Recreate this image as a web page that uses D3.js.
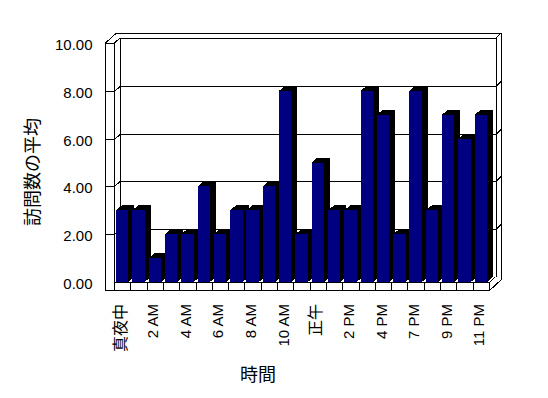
<!DOCTYPE html>
<html>
<head>
<meta charset="utf-8">
<script src="https://cdn.jsdelivr.net/npm/d3@7"></script>
<style>
  body { margin: 0; background: #fff; }
  svg { display: block; }
  text { font-family: "Liberation Sans", Arial, "Noto Sans CJK JP", sans-serif; fill: #000; }
</style>
</head>
<body>
<div id="chart"></div>
<script>
// data: average visits per hour of day
var hours = ["真夜中","1 AM","2 AM","3 AM","4 AM","5 AM","6 AM","7 AM","8 AM","9 AM","10 AM","11 AM",
             "正午","1 PM","2 PM","3 PM","4 PM","5 PM","7 PM","8 PM","9 PM","10 PM","11 PM"];
var visits = [3,3,1,2,2,4,2,3,3,4,8,2,5,3,3,8,7,2,8,3,7,6,7];
var yTicks = [0,2,4,6,8,10];
var yTitle = "訪問数の平均";
var xTitle = "時間";

var width = 548, height = 398;

var svg = d3.select("#chart").append("svg")
    .attr("width", width)
    .attr("height", height)
    .attr("shape-rendering", "crispEdges");

// scales
var x = d3.scaleBand()
    .domain(hours)
    .range([114, 489])
    .padding(0);
var y = d3.scaleLinear()
    .domain([0, 10])
    .range([282, 43]);

// 3d depth offsets
var wallDx = 5.5, wallDy = 5;
var barDx = 6, barDy = 5;

var L = 105.5, B = 114.5, BW = B + wallDx, R = 496, R2 = R + 5;
var top0 = y(10), floorTop = y(0), floorFront = 290.5;
var xEnd = x.range()[1] + 0.5;

var frame = svg.append("g")
    .attr("fill", "none")
    .attr("stroke", "#000")
    .attr("stroke-width", 1);

// side wall + back wall outline
frame.append("path").attr("d",
  "M" + L + "," + floorFront + "V" + top0 + "H" + B + "V" + floorTop +
  "M" + L + "," + top0 + "L" + (L + wallDx) + "," + (top0 - wallDy) +
  "L" + (L + 2 * wallDx) + "," + (top0 - 2 * wallDy) + "H" + R2 + "V" + (floorTop - 2) +
  "M" + B + "," + top0 + "L" + BW + "," + (top0 - wallDy) + "H" + R + "V" + (floorTop - wallDy) +
  "M" + R + "," + (top0 - wallDy) + "L" + R2 + "," + (top0 - 2 * wallDy) +
  "M" + BW + "," + (top0 - wallDy) + "V" + (floorTop - wallDy));

// gridlines: front tick, wrap to back wall, across, wrap around thickness
frame.selectAll(".grid")
  .data(yTicks.filter(function(d) { return d > 0 && d < 10; }))
  .enter().append("path")
    .attr("class", "grid")
    .attr("d", function(d) {
      var yy = Math.round(y(d)) + 0.5;
      return "M" + L + "," + yy + "H" + B + "L" + BW + "," + (yy - wallDy) +
             "H" + R + "L" + R2 + "," + (yy - 2 * wallDy);
    });

// bars
var bars = svg.append("g").selectAll(".bar")
  .data(visits)
  .enter().append("g")
    .attr("class", "bar");

var bw = x.bandwidth() * 0.76;
function bx(i) { return x(hours[i]) + 2; }

bars.append("path")
    .attr("fill", "#000")
    .attr("d", function(d, i) {
      var x0 = bx(i), x1 = x0 + bw, yt = y(d), yb = y(0);
      return "M" + x0 + "," + yt + "L" + (x0 + barDx) + "," + (yt - barDy) +
             "H" + (x1 + barDx) + "V" + (yb - barDy) + "L" + x1 + "," + yb +
             "V" + yt + "Z";
    });

bars.append("rect")
    .attr("fill", "#000080")
    .attr("x", function(d, i) { return bx(i); })
    .attr("y", function(d) { return y(d); })
    .attr("width", bw)
    .attr("height", function(d) { return y(0) - y(d); });

// floor slab
var floor = svg.append("g")
    .attr("fill", "none")
    .attr("stroke", "#000");
floor.append("path").attr("d",
  "M" + B + "," + (floorTop + 0.5) + "H" + xEnd + "L" + (xEnd + wallDx) + "," + (floorTop - wallDy) +
  "M" + L + "," + floorFront + "H" + xEnd + "V" + floorTop +
  "M" + xEnd + "," + floorFront + "L" + R2 + "," + (floorTop - 2));

var bounds = hours.map(function(h) { return x(h); }).concat([x.range()[1]]);
floor.selectAll(".ctick")
  .data(bounds)
  .enter().append("line")
    .attr("class", "ctick")
    .attr("x1", function(d) { return Math.round(d) + 0.5; })
    .attr("x2", function(d) { return Math.round(d) + 0.5; })
    .attr("y1", floorTop)
    .attr("y2", floorFront);

// y axis labels
var yAxis = svg.append("g")
    .attr("transform", "translate(" + B + ",0)")
    .call(d3.axisLeft(y).tickValues(yTicks).tickFormat(d3.format(".2f")).tickSize(0).tickPadding(22));
yAxis.select(".domain").remove();
yAxis.selectAll("text")
    .attr("dy", null)
    .attr("y", 1)
    .attr("dominant-baseline", "central")
    .style("font-size", "15px")
    .style("font-family", "\"Liberation Sans\", Arial, sans-serif");

// x axis labels, every other hour, rotated
var xAxis = svg.append("g")
    .attr("transform", "translate(0," + floorTop + ")")
    .call(d3.axisBottom(x).tickValues(hours.filter(function(d, i) { return i % 2 === 0; })).tickSize(0));
xAxis.select(".domain").remove();
xAxis.selectAll("text")
    .attr("x", 0)
    .attr("y", 0)
    .attr("dy", null)
    .attr("transform", "translate(-2,22) rotate(-90)")
    .attr("text-anchor", "end")
    .attr("dominant-baseline", "central")
    .style("font-size", function(d) { return /[^\x00-\x7F]/.test(d) ? "16px" : "15px"; })
    .style("font-family", "\"Liberation Sans\", Arial, \"Noto Sans CJK JP\", sans-serif");

// axis titles
svg.append("text")
    .attr("transform", "translate(31,172) rotate(-90)")
    .attr("text-anchor", "middle")
    .attr("dominant-baseline", "central")
    .style("font-size", "18px")
    .style("font-family", "\"Noto Sans CJK JP\", sans-serif")
    .text(yTitle);

svg.append("text")
    .attr("x", 258)
    .attr("y", 373)
    .attr("text-anchor", "middle")
    .attr("dominant-baseline", "central")
    .style("font-size", "18px")
    .style("font-family", "\"Noto Sans CJK JP\", sans-serif")
    .text(xTitle);
</script>
</body>
</html>
